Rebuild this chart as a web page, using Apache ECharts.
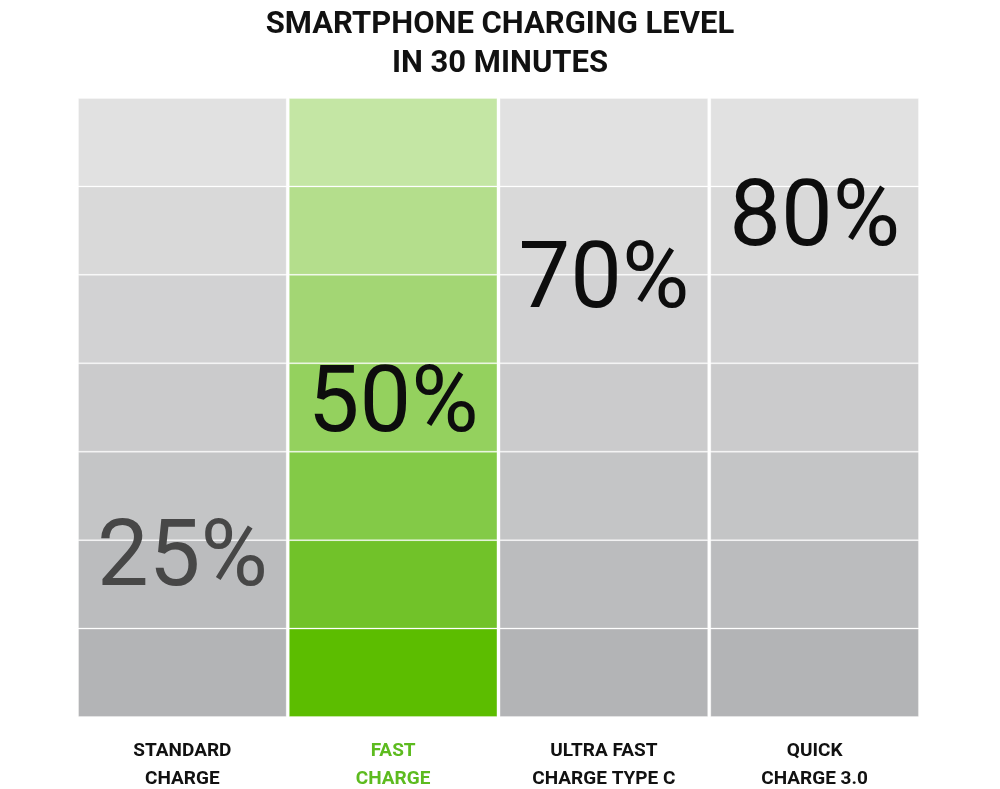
<!DOCTYPE html>
<html>
<head>
<meta charset="utf-8">
<script src="https://cdn.jsdelivr.net/npm/echarts@6/dist/echarts.min.js"></script>
<style>html,body{margin:0;padding:0;background:#fff}#c{width:1000px;height:789px}</style>
</head>
<body>
<div id="c"></div>
<script>
// ---- data ----
const titleText = 'SMARTPHONE CHARGING LEVEL\nIN 30 MINUTES';
const categories = ['STANDARD\nCHARGE', 'FAST\nCHARGE', 'ULTRA FAST\nCHARGE TYPE C', 'QUICK\nCHARGE 3.0'];
const values = [25, 50, 70, 80];
const highlightIndex = 1;
const bandCount = 7;
// band shades listed from bottom band to top band
const grayShades = ['#b3b4b6', '#bbbcbe', '#c4c5c6', '#cbcbcc', '#d2d2d3', '#d9d9d9', '#e1e1e1'];
const greenShades = ['#5cbd00', '#71c229', '#83ca47', '#94d15e', '#a3d674', '#b4de8c', '#c4e6a4'];

const labelFont = 'Roboto, sans-serif';

const bandSeries = [];
for (let b = 0; b < bandCount; b++) {
  bandSeries.push({
    type: 'bar',
    stack: 'bands',
    yAxisIndex: 0,
    barCategoryGap: '1%',
    silent: true,
    data: categories.map((c, i) => ({
      value: 1,
      itemStyle: {
        color: i === highlightIndex ? greenShades[b] : grayShades[b],
        borderColor: 'rgba(255,255,255,0.28)',
        borderWidth: 1
      }
    }))
  });
}

const valueSeries = {
  type: 'scatter',
  yAxisIndex: 1,
  symbol: 'circle',
  symbolSize: 1,
  itemStyle: { color: 'rgba(0,0,0,0)', opacity: 1 },
  z: 10,
  data: values.map((v, i) => ({
    value: v,
    label: { color: v < 30 ? '#474747' : '#0d0d0d' }
  })),
  label: {
    show: true,
    position: 'inside',
    opacity: 1,
    formatter: p => p.value + '%',
    fontFamily: 'Roboto, sans-serif',
    fontSize: 92,
    fontWeight: 400
  }
};

const chart = echarts.init(document.getElementById('c'), null, { renderer: 'canvas' });
chart.setOption({
  animation: false,
  backgroundColor: '#ffffff',
  title: {
    text: titleText,
    left: 'center',
    top: 1,
    textStyle: {
      fontFamily: 'Roboto, sans-serif',
      fontSize: 31,
      fontWeight: 'bold',
      color: '#111111',
      lineHeight: 39
    }
  },
  grid: { left: 77, right: 80, top: 98, bottom: 72 },
  xAxis: {
    type: 'category',
    data: categories,
    axisLine: { show: false },
    axisTick: { show: false },
    axisLabel: {
      margin: 20,
      interval: 0,
      formatter: (val, idx) => val.split('\n').map(l => '{' + (idx === highlightIndex ? 'hl' : 'n') + '|' + l + '}').join('\n'),
      rich: {
        n: { fontFamily: labelFont, fontSize: 19, fontWeight: 'bold', color: '#111111', lineHeight: 28 },
        hl: { fontFamily: labelFont, fontSize: 19, fontWeight: 'bold', color: '#5dbb1f', lineHeight: 28 }
      }
    }
  },
  yAxis: [
    { type: 'value', min: 0, max: bandCount, interval: 1, show: false },
    { type: 'value', min: 0, max: 100, interval: 10, show: false }
  ],
  series: bandSeries.concat([valueSeries])
});
</script>
</body>
</html>
